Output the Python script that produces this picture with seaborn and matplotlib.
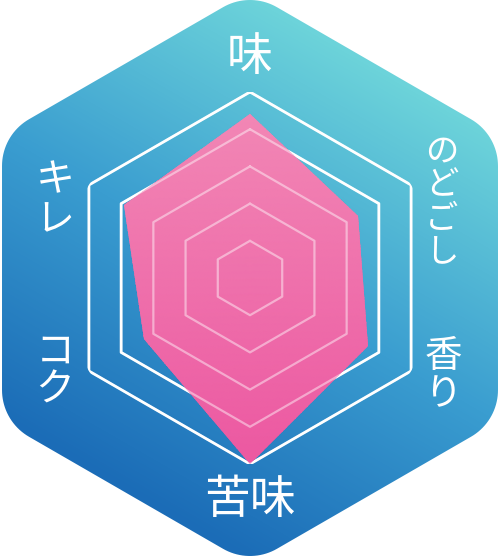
import numpy as np
import pandas as pd
import matplotlib
matplotlib.use("Agg")
import matplotlib.pyplot as plt
from matplotlib.patches import Polygon
import seaborn as sns

# データ
categories = ["味", "のどごし", "香り", "苦味", "コク", "キレ"]
values = [4.4, 3.35, 3.65, 5.0, 3.3, 3.9]
levels = [1, 2, 3, 4, 5]

sns.set_theme(style="white")
plt.rcParams["font.family"] = ["Noto Sans CJK JP", "DejaVu Sans"]

fig = plt.figure(figsize=(5, 5.56), dpi=100)

# 背景の角丸六角形（グラデーション）
bg = fig.add_axes([0, 0, 1, 1])
bg.axis("off")

cx, cy = 250, 278
r_in, r_c = 224, 54
pts = []
for k in range(6):
    a = np.deg2rad(90 + 60 * k)
    vx, vy = cx + r_in * np.cos(a), cy - r_in * np.sin(a)
    for phi in np.linspace(a - np.pi / 6, a + np.pi / 6, 20):
        pts.append((vx + r_c * np.cos(phi), vy - r_c * np.sin(phi)))
hex_patch = Polygon(pts, closed=True, facecolor="none", edgecolor="none")
bg.add_patch(hex_patch)

xx, yy = np.meshgrid(np.arange(500), np.arange(556))
t = ((xx - cx) * 0.5 + (cy - yy) * 0.866) / 245
bg_cmap = sns.blend_palette(["#1b6cb7", "#3a9dd0", "#6cd3da"], as_cmap=True)
img = bg.imshow(t, cmap=bg_cmap, vmin=-1, vmax=1,
                extent=(0, 500, 556, 0), aspect="auto")
img.set_clip_path(hex_patch)
bg.set_xlim(0, 500)
bg.set_ylim(556, 0)

# レーダーチャート
R = 186
ax = fig.add_axes([(cx - R) / 500, (556 - cy - R) / 556, 2 * R / 500, 2 * R / 556],
                  projection="polar")
ax.set_theta_offset(np.pi / 2)
ax.set_theta_direction(-1)

theta = np.linspace(0, 2 * np.pi, len(categories), endpoint=False)
th_c = np.append(theta, theta[0])
v_c = np.append(values, values[0])

rings = pd.DataFrame({
    "theta": np.tile(th_c, len(levels)),
    "r": np.repeat(levels, len(th_c)),
    "level": np.repeat(levels, len(th_c)),
})

# 目盛りの六角形（下）
sns.lineplot(data=rings, x="theta", y="r", units="level", estimator=None,
             sort=False, color="white", linewidth=2, ax=ax, zorder=1, legend=False)

# ピンクの領域（縦グラデーション）
shape = ax.fill(th_c, v_c, facecolor="none", edgecolor="none")[0]
tg, rg = np.meshgrid(np.linspace(0, 2 * np.pi, 241), np.linspace(0, 5.2, 60))
pink_cmap = sns.blend_palette(["#ec58a1", "#f287b5"], as_cmap=True)
mesh = ax.pcolormesh(tg, rg, rg * np.cos(tg), cmap=pink_cmap, vmin=-5, vmax=4.5,
                     shading="gouraud", zorder=2)
mesh.set_clip_path(shape)

# 目盛りの六角形（上・半透明）
sns.lineplot(data=rings, x="theta", y="r", units="level", estimator=None,
             sort=False, color="white", alpha=0.45, linewidth=1.6, ax=ax,
             zorder=3, legend=False)

ax.set_ylim(0, 5)
ax.axis("off")

# ラベル
bg.text(250, 57, categories[0], ha="center", va="center", fontsize=33, color="white")
bg.text(250, 500, categories[3], ha="center", va="center", fontsize=33, color="white")

# 縦書きラベル: (文字列, x, 先頭のy, 文字間隔, 文字サイズ)
vertical = [
    (categories[1], 442, 151, 34, 24),
    (categories[2], 443, 357, 38, 27),
    (categories[4], 55, 352, 39, 28),
    (categories[5], 55, 180, 40, 28),
]
for label, x, y0, step, size in vertical:
    for i, ch in enumerate(label):
        bg.text(x, y0 + i * step, ch, ha="center", va="center",
                fontsize=size, color="white")

fig.savefig("out.png", dpi=100)
